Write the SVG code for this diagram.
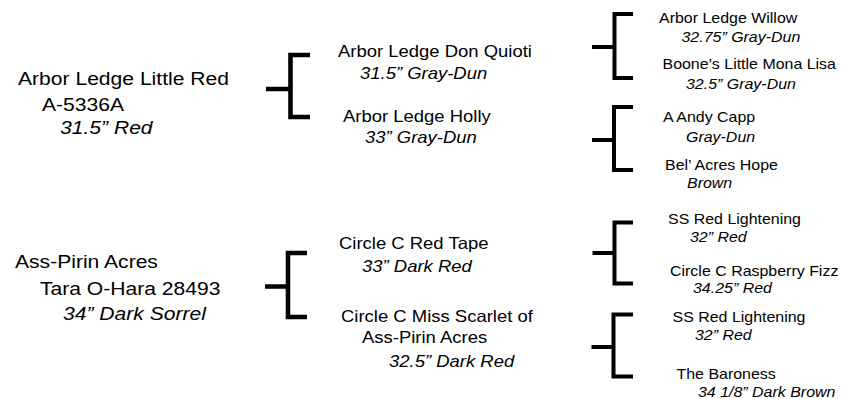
<svg xmlns="http://www.w3.org/2000/svg" width="842" height="399" viewBox="0 0 842 399">
<style>
text{font-family:"Liberation Sans",Arial,sans-serif;fill:#000}
.l1{font-size:18.5px}
.l2{font-size:16.5px}
.l3{font-size:14px}
.i{font-style:italic}
.br{fill:none;stroke:#000;stroke-linejoin:miter}
.b1{stroke-width:4.6}
.b2{stroke-width:4}
</style>
<rect width="842" height="399" fill="#fff"/>
<g id="connectors">
<path class="br b1" d="M266,89H290.5M310,55H290.5V117H310"/>
<path class="br b1" d="M265,286.5H288M307,253H288V317H307"/>
<path class="br b2" d="M592,47H614.5M633,14H614.5V78H633"/>
<path class="br b2" d="M592,140H614M633,107H614V170H633"/>
<path class="br b2" d="M592.5,253H614.5M633,222.5H614.5V283.5H633"/>
<path class="br b2" d="M591.5,347H613.5M633,314.5H613.5V376.5H633"/>
</g>
<g id="n-little-red" class="l1">
<text transform="translate(18,85) scale(1.14,1)">Arbor Ledge Little Red</text>
<text transform="translate(42,110.5) scale(1.14,1)">A-5336A</text>
<text class="i" transform="translate(60,134) scale(1.14,1)">31.5” Red</text>
</g>
<g id="n-tara" class="l1">
<text transform="translate(15,267.5) scale(1.14,1)">Ass-Pirin Acres</text>
<text transform="translate(40,295) scale(1.14,1)">Tara O-Hara 28493</text>
<text class="i" transform="translate(63,320) scale(1.14,1)">34” Dark Sorrel</text>
</g>
<g id="n-don-quioti" class="l2">
<text transform="translate(338,56.5) scale(1.12,1)">Arbor Ledge Don Quioti</text>
<text class="i" transform="translate(360,78.5) scale(1.12,1)">31.5” Gray-Dun</text>
</g>
<g id="n-holly" class="l2">
<text transform="translate(343,121.5) scale(1.12,1)">Arbor Ledge Holly</text>
<text class="i" transform="translate(365,143) scale(1.12,1)">33” Gray-Dun</text>
</g>
<g id="n-red-tape" class="l2">
<text transform="translate(339,248.5) scale(1.12,1)">Circle C Red Tape</text>
<text class="i" transform="translate(362,271.5) scale(1.12,1)">33” Dark Red</text>
</g>
<g id="n-miss-scarlet" class="l2">
<text transform="translate(341,321.5) scale(1.12,1)">Circle C Miss Scarlet of</text>
<text transform="translate(362,343) scale(1.12,1)">Ass-Pirin Acres</text>
<text class="i" transform="translate(389,366.5) scale(1.12,1)">32.5” Dark Red</text>
</g>
<g id="n-willow" class="l3">
<text transform="translate(659,22.5) scale(1.14,1)">Arbor Ledge Willow</text>
<text class="i" transform="translate(681.5,41.5) scale(1.14,1)">32.75” Gray-Dun</text>
</g>
<g id="n-mona-lisa" class="l3">
<text transform="translate(662.5,68.5) scale(1.14,1)">Boone’s Little Mona Lisa</text>
<text class="i" transform="translate(686,88.5) scale(1.14,1)">32.5” Gray-Dun</text>
</g>
<g id="n-andy-capp" class="l3">
<text transform="translate(663,121.5) scale(1.14,1)">A Andy Capp</text>
<text class="i" transform="translate(686,141.5) scale(1.14,1)">Gray-Dun</text>
</g>
<g id="n-hope" class="l3">
<text transform="translate(665,170) scale(1.14,1)">Bel’ Acres Hope</text>
<text class="i" transform="translate(687,188) scale(1.14,1)">Brown</text>
</g>
<g id="n-ss-red-1" class="l3">
<text transform="translate(668,223.5) scale(1.14,1)">SS Red Lightening</text>
<text class="i" transform="translate(690,241.5) scale(1.14,1)">32” Red</text>
</g>
<g id="n-raspberry" class="l3">
<text transform="translate(670,275.5) scale(1.14,1)">Circle C Raspberry Fizz</text>
<text class="i" transform="translate(693,293) scale(1.14,1)">34.25” Red</text>
</g>
<g id="n-ss-red-2" class="l3">
<text transform="translate(672.5,321.5) scale(1.14,1)">SS Red Lightening</text>
<text class="i" transform="translate(695,340) scale(1.14,1)">32” Red</text>
</g>
<g id="n-baroness" class="l3">
<text transform="translate(676.5,378.5) scale(1.14,1)">The Baroness</text>
<text class="i" transform="translate(698,396.5) scale(1.14,1)">34 1/8” Dark Brown</text>
</g>
</svg>
